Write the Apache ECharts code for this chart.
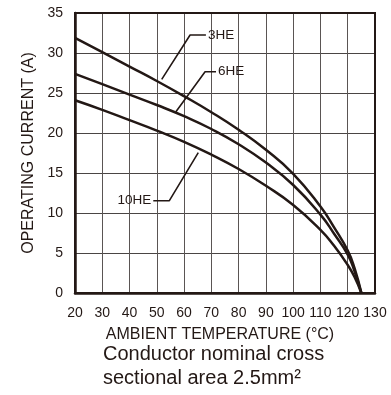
<!DOCTYPE html>
<html>
<head>
<meta charset="utf-8">
<script src="https://cdn.jsdelivr.net/npm/echarts@6/dist/echarts.min.js"></script>
<style>
  html,body{margin:0;padding:0;background:#fff;}
  #main{width:391px;height:395px;}
</style>
</head>
<body>
<div id="main"></div>
<script>
// 温度 (°C)
var temps=[20,30,40,50,60,70,80,90,100,110,115,120,122.5,125];
// 各曲线电流 (A)
var cur3HE=[31.9,30.1,28.3,26.5,24.6,22.6,20.4,17.9,14.9,10.8,8.2,5.3,3.1,0];
var cur6HE=[27.4,26.1,24.8,23.5,22.1,20.5,18.6,16.3,13.5,9.8,7.4,4.8,2.7,0];
var cur10HE=[24.1,22.9,21.6,20.3,18.9,17.3,15.5,13.4,11.0,7.9,5.9,3.5,2.0,0];
// 引线 (标签端, 拐点, 曲线端)
var lead3HE=[[68.0,32.25],[62.2,32.25],[51.8,26.7]];
var lead6HE=[[71.7,27.66],[67.7,27.66],[57.0,22.66]];
var lead10HE=[[48.7,11.54],[54.6,11.54],[65.2,17.54]];
var xTicks=[20,130,10];
var yTicks=[0,35,5];

var ink='#231815';
var font='"Liberation Sans", Arial, sans-serif';

function zip(xs,ys){
  return xs.map(function(x,i){return [x,ys[i]];});
}
function curve(name,ys){
  return {
    name:name,
    type:'line',
    data:zip(temps,ys),
    smooth:0.5,
    symbol:'none',
    lineStyle:{color:ink,width:2.5},
    z:5
  };
}
function leader(name,pts,pos){
  var data=pts.map(function(p){return {value:p};});
  data[0].label={show:true,position:pos,distance:2,formatter:name,
    color:ink,fontSize:13.5,fontFamily:font};
  return {
    type:'line',
    data:data,
    symbol:'circle',
    symbolSize:0,
    showSymbol:true,
    lineStyle:{color:ink,width:1.6},
    z:6
  };
}

var chart=echarts.init(document.getElementById('main'));
chart.setOption({
  animation:false,
  title:{
    text:'Conductor nominal cross\nsectional area 2.5mm²',
    left:103,
    top:342,
    padding:0,
    textStyle:{color:ink,fontSize:20,fontWeight:'normal',lineHeight:24,fontFamily:font}
  },
  grid:{left:75,right:16,top:13,bottom:102,show:true,borderColor:ink,borderWidth:2,z:4},
  xAxis:{
    type:'value',
    min:xTicks[0],max:xTicks[1],interval:xTicks[2],
    name:'AMBIENT TEMPERATURE (°C)',
    nameLocation:'middle',
    nameGap:34,
    nameTextStyle:{color:ink,fontSize:16,fontFamily:font,padding:[0,10,0,0]},
    axisLine:{show:true,lineStyle:{color:ink,width:2.5}},
    axisTick:{show:false},
    axisLabel:{color:ink,fontSize:14,margin:13,fontFamily:font},
    splitLine:{show:true,lineStyle:{color:'#5a5554',width:1}}
  },
  yAxis:{
    type:'value',
    min:yTicks[0],max:yTicks[1],interval:yTicks[2],
    name:'OPERATING CURRENT (A)',
    nameLocation:'middle',
    nameGap:37,
    nameTextStyle:{color:ink,fontSize:16,fontFamily:font},
    axisLine:{show:true,lineStyle:{color:ink,width:2.5}},
    axisTick:{show:false},
    axisLabel:{color:ink,fontSize:14,margin:12,fontFamily:font},
    splitLine:{show:true,lineStyle:{color:'#4a4544',width:1}}
  },
  series:[
    curve('3HE',cur3HE),
    curve('6HE',cur6HE),
    curve('10HE',cur10HE),
    leader('3HE',lead3HE,'right'),
    leader('6HE',lead6HE,'right'),
    leader('10HE',lead10HE,'left')
  ]
});
</script>
</body>
</html>
